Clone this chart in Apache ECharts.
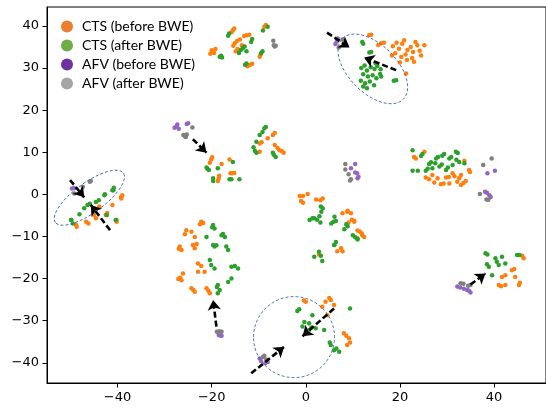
<!DOCTYPE html>
<html>
<head>
<meta charset="utf-8">
<script src="https://cdn.jsdelivr.net/npm/echarts@6/dist/echarts.min.js"></script>
<style>
  html, body { margin: 0; padding: 0; background: #fff; }
  #chart { width: 546px; height: 411px; }
</style>
</head>
<body>
<div id="chart"></div>
<script>
// t-SNE embedding of CTS and AFV samples, before and after BWE
const seriesNames = ['CTS (before BWE)', 'CTS (after BWE)', 'AFV (before BWE)', 'AFV (after BWE)'];

const ctsBefore = [
  [-20.0,34.2],[-19.5,33.6],[-20.3,33.4],[-19.2,34.5],
  [-15.5,39.0],[-15.8,38.5],[-15.2,39.4],
  [-15.1,35.9],[-14.6,36.4],[-15.4,35.3],[-14.9,34.0],[-14.5,34.5],[-14.0,36.8],[-13.6,35.4],
  [-12.6,37.8],[-12.0,37.9],[-13.1,37.6],
  [-11.9,30.7],[-12.4,30.4],[-11.4,31.0],
  [-9.8,32.7],[-9.6,33.2],[-8.8,39.8],[-8.5,40.2],
  [13.5,37.8],[13.9,37.9],[16.0,35.9],[16.6,36.0],[15.4,35.5],
  [18.5,35.2],[19.3,36.0],[19.8,34.6],[20.5,35.8],[20.9,36.6],[21.6,34.3],[21.2,33.2],[22.3,35.0],
  [22.8,33.8],[23.3,36.2],[23.7,35.4],[24.2,34.1],[25.2,35.4],[20.3,32.6],[21.5,31.9],[22.6,32.4],
  [19.0,33.5],[23.0,31.5],[24.5,33.0],[18.3,33.0],[20.0,31.3],[21.3,28.7],
  [-20.1,8.3],[-20.4,7.5],[-19.9,8.8],[-17.9,7.2],[-16.2,8.3],[-18.5,3.8],[-18.7,3.2],[-18.4,4.4],
  [-16.0,5.0],[-15.6,5.0],[-15.2,5.1],
  [-7.0,14.1],[-6.6,14.6],[-8.1,13.3],[-9.8,12.1],[-9.4,12.4],[-6.6,11.7],[-9.8,10.1],[-5.6,10.5],
  [-4.7,9.9],[-5.1,10.3],[-6.0,11.0],
  [-0.6,-0.4],[-1.3,-0.4],[0.4,0.1],[-0.6,-2.0],[-1.0,-1.6],[2.2,-1.2],[3.1,-1.4],[3.6,-1.0],
  [8.9,-3.9],[7.8,-4.5],[9.6,-4.5],[8.8,-4.1],[9.1,-6.7],[10.3,-6.3],[10.3,-6.5],[9.8,-6.0],
  [11.0,-8.6],[12.0,-9.7],[11.9,-9.3],[12.4,-10.1],[11.5,-8.9],[7.5,-12.8],[6.7,-13.5],[7.8,-13.5],[2.8,-14.3],
  [25.2,10.1],[23.4,8.5],[23.0,8.9],[33.7,8.0],[34.7,5.8],[34.9,5.3],[25.5,4.0],[26.9,4.6],[28.0,3.8],
  [27.3,2.8],[29.8,4.0],[30.4,4.1],[31.2,5.0],[31.6,4.3],[30.5,2.6],[32.2,3.0],[33.0,4.6],[34.0,3.2],
  [33.0,2.2],[33.5,2.7],[28.7,2.4],[29.3,2.6],[26.2,3.6],[32.6,3.8],
  [46.3,-15.2],[46.0,-14.6],[43.8,-18.0],[44.3,-17.7],[42.4,-19.2],[44.5,-19.6],[41.0,-21.5],[41.5,-21.8],
  [42.4,-21.5],[45.3,-21.5],[45.5,-21.0],[41.7,-19.6],
  [0.0,-25.5],[-0.4,-25.2],[4.2,-25.5],[5.3,-25.1],[5.0,-24.6],[3.5,-26.7],[6.0,-26.3],[4.6,-28.7],
  [8.1,-33.0],[9.2,-34.2],[8.6,-33.6],[8.8,-35.8],[9.4,-35.2],
  [-22.2,-6.5],[-22.5,-7.1],[-21.8,-6.8],[-25.4,-8.5],[-25.7,-9.5],[-24.3,-8.9],[-23.6,-10.1],
  [-26.8,-12.4],[-26.4,-13.2],[-27.0,-12.9],[-24.0,-12.0],[-23.6,-12.8],[-23.2,-11.8],
  [-22.9,-16.4],[-22.2,-17.0],[-22.9,-18.4],[-21.5,-18.4],[-27.1,-20.1],[-26.4,-20.4],[-26.1,-18.8],
  [-26.7,-19.8],[-24.3,-22.3],[-23.6,-23.1],[-23.9,-22.7],[-21.1,-22.3],[-20.4,-23.5],[-20.7,-22.9],
  [-39.3,-0.7],[-39.2,-1.0],[-39.0,-0.2],[-41.1,-2.5],[-43.9,-2.9],[-45.0,-4.9],[-44.6,-5.7],
  [-48.8,-7.3],[-48.7,-7.7],[-46.7,-6.5],[-46.2,-6.9],[-40.2,-6.5],[-40.2,-6.1],[-42.5,-4.9],[-42.2,-4.4]
];

const ctsAfter = [
  [-18.3,32.7],[-18.0,32.9],[-17.8,32.5],[-16.3,38.2],[-16.5,37.7],[-13.4,34.7],[-13.0,35.1],[-13.8,34.3],
  [-11.6,36.2],[-11.4,36.9],[-12.6,31.1],[-12.9,30.8],[-9.5,33.5],[-9.2,34.0],[-8.1,39.8],[-9.1,38.9],
  [-12.6,34.0],[-14.2,33.6],
  [12.0,36.2],[12.2,35.8],[13.5,33.7],[13.9,33.8],[11.8,30.0],[12.5,30.6],[13.0,29.4],[13.8,30.2],
  [14.6,29.8],[15.2,30.5],[15.9,29.7],[12.2,28.5],[13.2,28.0],[14.2,28.3],[15.0,27.6],[15.8,28.6],
  [11.7,27.0],[12.6,26.4],[13.6,26.8],[14.5,25.9],[12.2,25.6],[13.0,25.2],[16.0,28.0],[18.7,27.0],
  [19.2,27.1],[14.8,31.2],
  [-15.5,7.7],[-21.1,6.4],[-20.6,5.8],[-20.9,6.1],[-18.7,6.2],[-19.7,3.8],[-19.7,3.2],[-16.2,3.6],
  [-15.8,3.6],[-14.1,3.6],
  [-8.8,15.7],[-8.5,16.0],[-9.8,14.1],[-10.5,12.5],[-11.1,11.2],[-10.5,9.9],[-10.8,10.3],[-7.0,9.9],
  [-6.4,8.9],[-6.8,9.4],[-9.2,14.8],
  [3.6,-3.3],[3.3,-4.1],[2.9,-5.2],[1.8,-5.7],[0.8,-6.1],[3.1,-6.7],[1.4,-5.7],[3.2,-2.9],[2.4,-6.0],
  [6.1,-5.3],[6.4,-6.3],[5.4,-6.9],[5.9,-6.5],[8.6,-7.1],[8.2,-8.3],[8.9,-7.6],[10.0,-9.7],[11.0,-10.7],
  [11.0,-10.5],[10.5,-10.2],[6.4,-11.3],[6.1,-12.0],[6.0,-12.0],[2.8,-13.6],[1.8,-14.8],[3.5,-15.8],[3.2,-14.6],
  [22.7,10.5],[24.5,9.1],[24.8,9.6],[22.7,5.6],[23.8,5.6],[26.2,7.2],[26.6,7.6],[27.7,8.5],[28.1,8.9],
  [29.4,9.6],[29.0,9.2],[30.5,8.5],[31.9,10.1],[32.3,9.8],[32.6,7.7],[32.0,8.2],[31.2,7.0],[28.4,6.6],
  [28.9,7.1],[26.9,6.2],[29.8,5.8],[30.2,6.4],[25.5,5.6],[25.9,6.1],[33.7,7.4],[27.5,7.4],[30.9,8.9],
  [38.2,-14.0],[38.6,-14.3],[40.3,-15.2],[41.7,-14.8],[38.9,-17.2],[38.5,-16.6],[41.0,-16.8],[42.4,-16.4],
  [40.6,-16.0],[44.9,-14.4],[45.4,-14.4],[39.6,-19.2],
  [-1.8,-27.7],[-1.4,-27.3],[1.4,-28.7],[-0.3,-30.3],[0.7,-30.6],[-0.7,-31.4],[2.1,-31.8],[0.7,-32.2],
  [1.2,-31.6],[3.9,-32.2],[9.4,-27.1],[5.3,-35.8],[6.0,-37.0],[7.1,-37.4],[5.1,-35.2],[6.5,-36.6],
  [-19.7,-7.3],[-19.4,-8.1],[-19.9,-7.8],[-21.1,-10.1],[-17.9,-9.7],[-17.2,-10.1],[-17.6,-9.4],
  [-19.7,-12.0],[-19.4,-12.4],[-19.0,-12.1],[-16.9,-12.4],[-16.5,-13.2],[-20.4,-15.6],[-20.1,-16.8],
  [-19.4,-17.6],[-15.8,-17.2],[-14.4,-17.6],[-15.1,-17.0],[-15.8,-20.0],[-16.5,-20.8],[-18.7,-21.5],
  [-18.3,-22.7],[-18.7,-23.5],[-18.9,-22.0],
  [-42.8,-0.2],[-41.1,1.0],[-40.9,1.0],[-40.8,1.6],[-42.7,0.0],[-44.6,-1.8],[-46.4,-2.5],[-47.1,-3.3],
  [-45.9,-2.2],[-48.1,-4.7],[-49.9,-6.1],[-49.5,-6.9],[-49.8,-6.1],[-42.3,-4.9],[-40.4,-6.1],[-44.0,-1.4]
];

const afvBefore = [
  [-27.5,16.1],[-27.0,15.6],[-27.9,15.8],[-27.3,16.6],[-25.0,16.9],[-25.3,16.7],
  [6.8,37.0],[6.3,35.7],[6.6,36.3],
  [10.5,7.2],[9.6,6.2],[10.5,5.2],[10.9,5.0],[11.0,3.8],[11.2,4.2],
  [40.2,5.6],[38.6,5.0],[38.1,0.6],[39.0,-0.2],[39.3,-0.6],[38.5,0.4],
  [32.2,-21.9],[32.8,-22.1],[34.3,-22.7],[35.0,-23.3],[34.7,-22.9],[33.6,-22.4],
  [-9.8,-39.0],[-8.1,-39.8],[-9.5,-39.6],[-8.6,-40.1],
  [-18.5,-33.4],[-17.9,-33.6],[-18.2,-33.5],
  [-49.7,1.4],[-49.3,1.5]
];

const afvAfter = [
  [-6.9,36.5],[-6.6,35.1],[-6.8,35.4],[-6.4,35.3],
  [7.8,36.8],[7.0,34.9],
  [-25.7,13.8],[-25.3,14.2],[-26.0,14.1],[-25.5,13.6],[-24.1,15.9],
  [8.4,7.2],[8.4,5.9],[9.1,4.8],[9.6,3.6],[9.4,3.3],
  [39.5,8.5],[37.7,7.0],[37.0,0.1],[38.4,-1.2],[38.8,-1.3],
  [32.9,-21.1],[33.5,-21.2],[35.0,-21.5],[34.5,-21.7],
  [-9.1,-38.6],[-8.4,-39.2],[-8.8,-38.3],
  [-17.9,-32.6],[-18.9,-32.6],[-18.4,-32.5],
  [-49.2,0.2],[-47.4,1.8],[-45.7,3.2],[-45.9,3.0]
];

const xTicks = [-40, -20, 0, 20, 40];
const yTicks = [-40, -30, -20, -10, 0, 10, 20, 30, 40];

// shift arrows: [fromX, fromY, toX, toY]
const arrows = [
  [4.5, 38.4, 9.3, 34.9],
  [19.2, 29.5, 12.4, 32.5],
  [-24.0, 13.1, -21.1, 9.9],
  [-50.1, 3.4, -47.1, -0.7],
  [-41.6, -8.5, -45.7, -2.5],
  [-19.0, -31.4, -19.7, -25.1],
  [6.0, -27.1, -0.7, -33.7],
  [-11.6, -42.5, -4.6, -36.2],
  [35.0, -21.4, 38.2, -18.8]
];

// highlighted regions: [centerX, centerY, radiusX(px), radiusY(px), rotation(deg)]
const regions = [
  [14.25, 29.8, 43, 24, -45],
  [-46.0, -0.8, 42, 15, 36],
  [-2.5, -33.9, 40.5, 40.5, 0]
];

const pointColors = ['#ff7f0e', '#2ca02c', '#9467bd', '#7f7f7f'];
const legendColors = ['#ED7D31', '#70AD47', '#7030A0', '#A5A5A5'];
const pointSets = [ctsBefore, ctsAfter, afvBefore, afvAfter];

const fmt = v => String(v).replace('-', '\u2212');
const tickFont = { color: '#000', fontSize: 13, fontFamily: 'DejaVu Sans' };

const chart = echarts.init(document.getElementById('chart'), null, { renderer: 'canvas' });

const scatterSeries = pointSets.map((pts, i) => ({
  name: seriesNames[i],
  type: 'scatter',
  data: pts,
  symbol: 'circle',
  symbolSize: 4.5,
  itemStyle: { color: pointColors[i], opacity: 1 },
  emphasis: { disabled: true },
  z: 2
}));

chart.setOption({
  animation: false,
  backgroundColor: '#fff',
  grid: { left: 47, right: -1, top: 7, bottom: 28, show: true, borderColor: '#000', borderWidth: 1, containLabel: false },
  legend: {
    orient: 'vertical',
    left: 56,
    top: 12,
    itemWidth: 12,
    itemHeight: 12,
    itemGap: 0,
    icon: 'circle',
    textStyle: { color: '#000', fontSize: 14, fontFamily: 'Lato', lineHeight: 19, padding: [0, 0, 0, 4] },
    data: seriesNames.map((n, i) => ({ name: n, itemStyle: { color: legendColors[i] } }))
  },
  xAxis: {
    type: 'value',
    min: -55,
    max: 51.05,
    splitLine: { show: false },
    axisLine: { onZero: false, lineStyle: { color: '#000', width: 1 } },
    axisTick: { show: true, length: 4.5, lineStyle: { color: '#000' }, customValues: xTicks },
    axisLabel: { margin: 8, formatter: fmt, customValues: xTicks, ...tickFont }
  },
  yAxis: {
    type: 'value',
    min: -44.8,
    max: 44.5,
    splitLine: { show: false },
    axisLine: { onZero: false, show: true, lineStyle: { color: '#000', width: 1 } },
    axisTick: { show: true, length: 4.5, lineStyle: { color: '#000' }, customValues: yTicks },
    axisLabel: { margin: 8, formatter: fmt, customValues: yTicks, ...tickFont }
  },
  series: [
    ...scatterSeries,
    {
      type: 'custom',
      name: 'regions',
      coordinateSystem: 'cartesian2d',
      data: regions,
      silent: true,
      z: 3,
      renderItem: (params, api) => {
        const c = api.coord([api.value(0), api.value(1)]);
        return {
          type: 'ellipse',
          x: c[0],
          y: c[1],
          rotation: api.value(4) * Math.PI / 180,
          shape: { cx: 0, cy: 0, rx: api.value(2), ry: api.value(3) },
          style: { fill: 'none', stroke: '#4a6cab', lineWidth: 0.9, lineDash: [3, 2] }
        };
      }
    },
    {
      type: 'lines',
      name: 'shifts',
      coordinateSystem: 'cartesian2d',
      silent: true,
      z: 4,
      symbol: ['none', 'arrow'],
      symbolSize: 10,
      lineStyle: { color: '#000', width: 2.6, type: [6, 3], opacity: 1 },
      data: arrows.map(a => ({ coords: [[a[0], a[1]], [a[2], a[3]]] }))
    }
  ]
});
</script>
</body>
</html>
